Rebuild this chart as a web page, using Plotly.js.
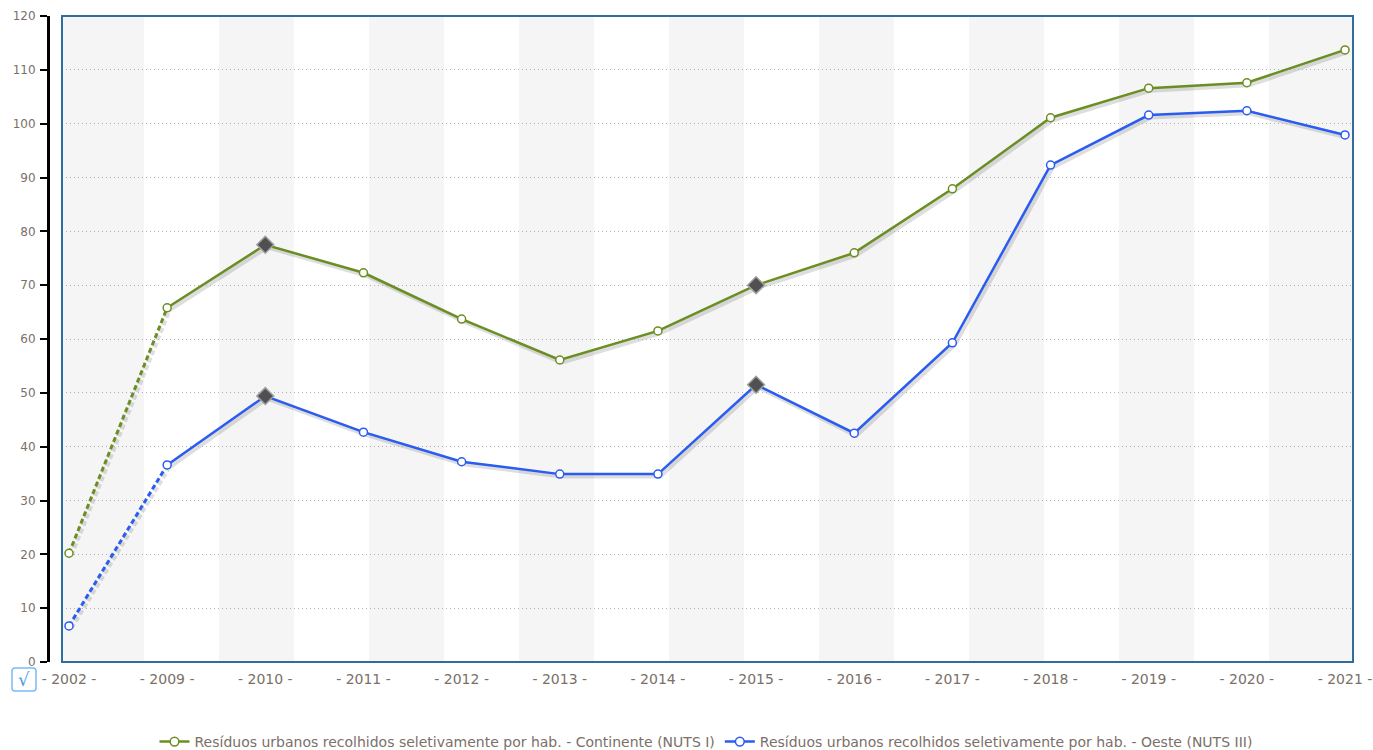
<!DOCTYPE html>
<html>
<head>
<meta charset="utf-8">
<script src="https://cdn.plot.ly/plotly-3.0.1.min.js"></script>
<style>html,body{margin:0;padding:0;background:#fff;}#chart{width:1373px;height:750px;}</style>
</head>
<body>
<div id="chart"></div>
<script>
// ---- data ----
const years = ['2002','2009','2010','2011','2012','2013','2014','2015','2016','2017','2018','2019','2020','2021'];
const tickLabels = years.map(y => '- ' + y + ' -');
const continente = [20.2, 65.8, 77.5, 72.3, 63.7, 56.1, 61.5, 70.0, 76.0, 87.9, 101.1, 106.6, 107.6, 113.7];
const oeste = [6.7, 36.6, 49.4, 42.7, 37.2, 34.9, 34.9, 51.5, 42.5, 59.3, 92.3, 101.6, 102.4, 97.9];
const breakYears = ['2010', '2015'];
const seriesNames = [
  'Resíduos urbanos recolhidos seletivamente por hab. - Continente (NUTS I)',
  'Resíduos urbanos recolhidos seletivamente por hab. - Oeste (NUTS III)'
];
const seriesColors = ['#6b8e23', '#2a5cf2'];

// ---- layout geometry (pixels) ----
const W = 1373, H = 750;
const PL = 48, PR = 1355, PT = 16, PB = 664;   // paper box
const pw = PR - PL, ph = PB - PT;
const px = x => (x - PL) / pw;
const py = y => (PB - y) / ph;
const plotL = 62, plotR = 1353, plotT = 16, plotB = 662, sh = 2;

const font = 'DejaVu Sans, Verdana, sans-serif';
const textColor = '#7a7068';

const traces = [];
const series = [continente, oeste];
series.forEach((vals, i) => {
  // shadows (subplot xy, shifted)
  traces.push({x: years.slice(0, 2), y: vals.slice(0, 2), xaxis: 'x', yaxis: 'y', mode: 'lines',
    line: {color: 'rgba(0,0,0,0.13)', width: 5, dash: '5px,3px'}, showlegend: false, hoverinfo: 'skip'});
  traces.push({x: years.slice(1), y: vals.slice(1), xaxis: 'x', yaxis: 'y', mode: 'lines',
    line: {color: 'rgba(0,0,0,0.13)', width: 5}, showlegend: false, hoverinfo: 'skip'});
});
series.forEach((vals, i) => {
  const col = seriesColors[i];
  const sym = years.map(y => breakYears.includes(y) ? 'diamond' : 'circle');
  const msize = years.map(y => breakYears.includes(y) ? 13 : 8);
  const mfill = years.map(y => breakYears.includes(y) ? '#505050' : '#ffffff');
  const mline = years.map(y => breakYears.includes(y) ? '#a0a0a0' : col);
  traces.push({x: years.slice(0, 2), y: vals.slice(0, 2), xaxis: 'x2', yaxis: 'y2', mode: 'lines',
    line: {color: col, width: 3, dash: '5px,3px'}, showlegend: false});
  traces.push({x: years.slice(1), y: vals.slice(1), xaxis: 'x2', yaxis: 'y2', mode: 'lines+markers',
    name: seriesNames[i], line: {color: col, width: 2.5},
    marker: {symbol: sym.slice(1), size: msize.slice(1), color: mfill.slice(1), opacity: 1,
      line: {color: mline.slice(1), width: 1.5}}});
  traces.push({x: years.slice(0, 1), y: vals.slice(0, 1), xaxis: 'x2', yaxis: 'y2', mode: 'markers',
    marker: {symbol: 'circle', size: 8, color: '#ffffff', line: {color: col, width: 1.5}}, showlegend: false});
});

// background bands
const shapes = [];
const bands = [[plotL, 144]];
for (let k = 0; k < 8; k++) {
  const s = 219 + 150 * k;
  bands.push([s, k === 7 ? plotR : s + 75]);
}
bands.forEach(b => shapes.push({type: 'rect', xref: 'paper', yref: 'paper', layer: 'below',
  x0: px(b[0]), x1: px(b[1]), y0: py(plotB), y1: py(plotT), fillcolor: '#f5f5f5', line: {width: 0}}));
// frame
shapes.push({type: 'rect', xref: 'x2 domain', yref: 'y2 domain', x0: 0, x1: 1, y0: 0, y1: 1,
  line: {color: '#2f6d9f', width: 2}, layer: 'above'});
// checkbox
const cx0 = px(12), cx1 = px(36), cy0 = py(691), cy1 = py(668);
const rx = 3 / pw, ry = 3 / ph;
shapes.push({type: 'path', xref: 'paper', yref: 'paper',
  path: `M ${cx0 + rx},${cy1} L ${cx1 - rx},${cy1} Q ${cx1},${cy1} ${cx1},${cy1 - ry} L ${cx1},${cy0 + ry} Q ${cx1},${cy0} ${cx1 - rx},${cy0} L ${cx0 + rx},${cy0} Q ${cx0},${cy0} ${cx0},${cy0 + ry} L ${cx0},${cy1 - ry} Q ${cx0},${cy1} ${cx0 + rx},${cy1} Z`,
  line: {color: '#7fbaf0', width: 1.5}, fillcolor: '#ffffff'});

const xRange = [-(69 - plotL) / 98.154, 13 + (plotR - 1345) / 98.154];

const layout = {
  width: W, height: H,
  margin: {l: PL, r: W - PR, t: PT, b: H - PB, pad: 0, autoexpand: false},
  paper_bgcolor: '#ffffff', plot_bgcolor: 'rgba(0,0,0,0)',
  font: {family: font, size: 12, color: textColor},
  showlegend: true,
  legend: {orientation: 'h', x: px(706), xanchor: 'center', y: py(742), yanchor: 'middle',
    font: {family: font, size: 14, color: textColor}, bgcolor: 'rgba(0,0,0,0)', itemwidth: 30},
  xaxis: {domain: [px(plotL + sh), px(plotR + sh)], anchor: 'y', type: 'category', categoryarray: years,
    range: xRange, visible: false, fixedrange: true, automargin: false},
  yaxis: {domain: [py(plotB + sh), py(plotT + sh)], anchor: 'x', range: [0, 120], visible: false, fixedrange: true, automargin: false},
  xaxis2: {domain: [px(plotL), px(plotR)], anchor: 'y2', type: 'category', categoryarray: years,
    range: xRange, tickvals: years, ticktext: tickLabels, showgrid: false, showline: false, zeroline: false,
    ticks: '', tickfont: {family: font, size: 14, color: textColor}, fixedrange: true, automargin: false,
    ticklabelstandoff: 7},
  yaxis2: {domain: [py(plotB), py(plotT)], anchor: 'free', position: 0, range: [0, 120], tick0: 0, dtick: 10,
    showline: true, linecolor: '#000000', linewidth: 3, ticks: 'outside', ticklen: 7, tickwidth: 2,
    tickcolor: '#000000', showgrid: true, gridcolor: '#b0b0b0', griddash: '1px,3px', gridwidth: 1,
    zeroline: false, tickfont: {family: font, size: 12, color: textColor}, ticklabelstandoff: 2,
    fixedrange: true, automargin: false},
  shapes: shapes,
  annotations: [{xref: 'paper', yref: 'paper', x: (cx0 + cx1) / 2, y: (cy0 + cy1) / 2, text: '√',
    showarrow: false, xanchor: 'center', yanchor: 'middle', font: {family: font, size: 18, color: '#4a9be0'}}]
};

Plotly.newPlot('chart', traces, layout, {displayModeBar: false, responsive: false});
</script>
</body>
</html>
